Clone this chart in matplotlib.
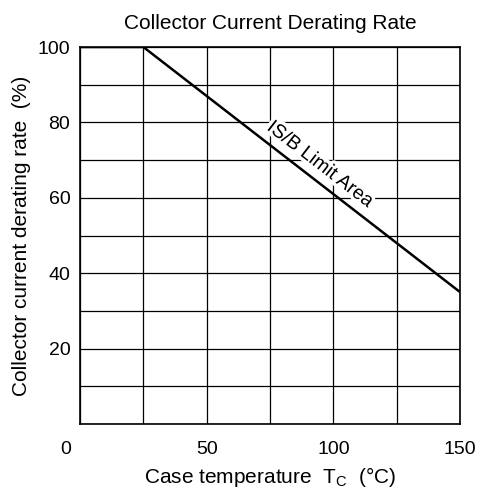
import matplotlib.pyplot as plt
import matplotlib.transforms as mtransforms
import matplotlib.patheffects as pe

plt.rcParams['font.family'] = ['Liberation Sans', 'DejaVu Sans']

# derating curve
temp = [0, 25, 150]
rate = [100, 100, 35]
xticks = [0, 50, 100, 150]
yticks = [20, 40, 60, 80, 100]

fig = plt.figure(figsize=(4.81, 4.92), dpi=100)
ax = fig.add_axes([80/481, 1-424/492, 380/481, 377/492])

ax.plot(temp, rate, color='black', lw=1.8, solid_capstyle='butt', zorder=3)

ax.set_xlim(0, 150)
ax.set_ylim(0, 100)
ax.set_xticks(range(0, 151, 25))
ax.set_yticks(range(0, 101, 10))
ax.grid(True, color='black', lw=0.9)
ax.set_axisbelow(True)

ax.set_xticklabels([str(v) if v in xticks else '' for v in range(0, 151, 25)])
ax.set_yticklabels([str(v) if v in yticks else '' for v in range(0, 101, 10)])
ax.tick_params(length=0, labelsize=14, colors='black')
ax.tick_params(axis='x', pad=12)
ax.tick_params(axis='y', pad=7)
# origin label sits left of the axis corner
lbl0 = ax.get_xticklabels()[0]
lbl0.set_transform(lbl0.get_transform() + mtransforms.ScaledTranslation(-14/100, 0, fig.dpi_scale_trans))

for s in ax.spines.values():
    s.set_color('black')
    s.set_linewidth(1.2)

ax.set_title('Collector Current Derating Rate', fontsize=15, pad=13)
ax.set_xlabel('Case temperature  T$_\\mathregular{C}$  (°C)', fontsize=15, labelpad=5)
ax.set_ylabel('Collector current derating rate  (%)', fontsize=15, labelpad=5)

ax.text(94.7, 68.7, 'IS/B Limit Area', rotation=-37.7, rotation_mode='anchor',
        ha='center', va='center', fontsize=14, zorder=4,
        path_effects=[pe.withStroke(linewidth=5, foreground='white')])

fig.savefig('out.png', dpi=100)
